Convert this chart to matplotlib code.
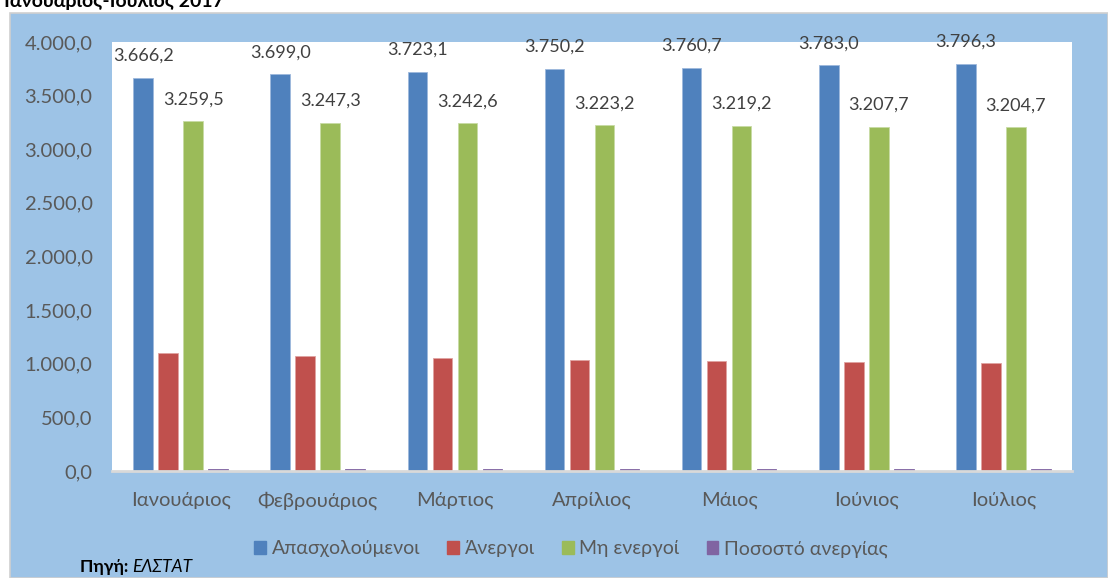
import matplotlib
matplotlib.use("Agg")
import matplotlib.pyplot as plt
from matplotlib.patches import Rectangle, Patch
import numpy as np

plt.rcParams['font.family'] = ['Lato', 'DejaVu Sans']

months = ["Ιανουάριος", "Φεβρουάριος", "Μάρτιος", "Απρίλιος", "Μάιος", "Ιούνιος", "Ιούλιος"]
employed = [3666.2, 3699.0, 3723.1, 3750.2, 3760.7, 3783.0, 3796.3]
unemployed = [1097, 1074, 1052, 1038, 1029, 1016, 1004]
inactive = [3259.5, 3247.3, 3242.6, 3223.2, 3219.2, 3207.7, 3204.7]
rate = [23.2, 22.8, 22.3, 21.9, 21.7, 21.2, 20.9]
series_names = ["Απασχολούμενοι", "Άνεργοι", "Μη ενεργοί", "Ποσοστό ανεργίας"]
yticks = [0, 500, 1000, 1500, 2000, 2500, 3000, 3500, 4000]

colors = ["#4F81BD", "#C0504D", "#9BBB59", "#8064A2"]
edge_colors = ["#9DB8DC", "#E0A3A1", "#C8DBA5", "#8064A2"]
W, H = 1108, 578
fig = plt.figure(figsize=(W / 100, H / 100), dpi=100)
fig.patch.set_facecolor("white")

# outer chart area
fig.patches.append(Rectangle((10 / W, 0), 1 - 10 / W, (H - 13) / H, transform=fig.transFigure,
                             facecolor="#9DC3E6", edgecolor="#D0D0D0", lw=1.2, zorder=-5))

ax = fig.add_axes([112 / W, 1 - 471 / H, (1072 - 112) / W, (471 - 42) / H], zorder=2)
ax.set_facecolor("white")

x = np.arange(len(months))
pitch = 0.1823
bw = 0.142
data = [employed, unemployed, inactive, rate]
bars = []
for i, (vals, c, ec) in enumerate(zip(data, colors, edge_colors)):
    b = ax.bar(x + (i - 1.5) * pitch, vals, bw, color=c, edgecolor=ec, linewidth=0.6, zorder=2)
    bars.append(b)

def gr(v):
    s = f"{v:,.1f}"
    return s.replace(",", "X").replace(".", ",").replace("X", ".")

for idx in (0, 2):
    ax.bar_label(bars[idx], labels=[gr(v) for v in data[idx]], padding=10,
                 fontsize=13, color="#404040")

ax.set_xlim(-0.5, len(months) - 0.5)
ax.set_ylim(0, 4000)
ax.set_yticks(yticks)
ax.set_yticklabels([gr(v) for v in yticks])
ax.set_xticks(x)
ax.set_xticklabels(months)
ax.tick_params(axis="y", length=0, pad=14, labelsize=14.5, labelcolor="#595959")
ax.tick_params(axis="x", length=0, pad=15, labelsize=14.5, labelcolor="#595959")
for s in ("top", "right", "left"):
    ax.spines[s].set_visible(False)
ax.spines["bottom"].set_color("#D9D9D9")
ax.spines["bottom"].set_linewidth(2)

handles = [Patch(facecolor=c, edgecolor=c) for c in colors]
fig.legend(handles, series_names, loc="center", bbox_to_anchor=(571 / W, 1 - 549 / H), ncol=4,
           frameon=False, fontsize=14, handlelength=0.6, handleheight=0.6,
           handletextpad=0.3, columnspacing=1.4, labelcolor="#595959")

fig.text(80 / W, 1 - 567 / H, "Πηγή: ", fontsize=12.5, fontweight="bold", va="center", ha="left")
fig.text(132 / W, 1 - 567 / H, "ΕΛΣΤΑΤ", fontsize=12.5, style="italic", va="center", ha="left")

fig.text(4 / W, 1 - 7 / H, "Ιανουάριος-Ιούλιος 2017", fontsize=14, fontweight="bold", va="baseline", ha="left")

fig.savefig("out.png", dpi=100)
